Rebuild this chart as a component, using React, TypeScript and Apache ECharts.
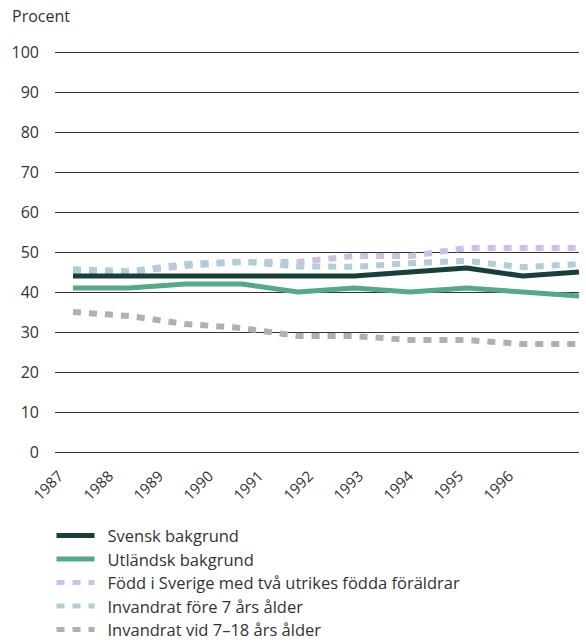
import React, { useEffect, useRef } from "react";
import * as echarts from "echarts";

const years = ["1987", "1988", "1989", "1990", "1991", "1992", "1993", "1994", "1995", "1996"];
const svensk = [44, 44, 44, 44, 44, 44, 45, 46, 44, 45];
const utlandsk = [41, 41, 42, 42, 40, 41, 40, 41, 40, 39];
const foddISverige = [45, 45, 46.5, 47.5, 47.5, 49, 49, 51, 51, 51];
const fore7 = [45.7, 45.2, 47, 47.6, 46.4, 46.3, 47.2, 47.8, 46.2, 47];
const vid7till18 = [35, 34, 32, 31, 29, 29, 28, 28, 27, 27];
const yTicks = [0, 100, 10];

const seriesNames = [
  "Svensk bakgrund",
  "Utländsk bakgrund",
  "Född i Sverige med två utrikes födda föräldrar",
  "Invandrat före 7 års ålder",
  "Invandrat vid 7–18 års ålder",
];

const FONT = "'Open Sans', sans-serif";

export default function App() {
  const ref = useRef<HTMLDivElement>(null);
  useEffect(() => {
    if (!ref.current) return;
    const chart = echarts.init(ref.current, null, { renderer: "svg" });
    const pairs = (arr: number[]) => arr.map((v, i) => [Number(years[i]), v]);
    const dashed = (name: string, data: number[], color: string, z: number) => ({
      name,
      type: "line",
      xAxisIndex: 0,
      yAxisIndex: 0,
      data: pairs(data),
      symbol: "none",
      z,
      lineStyle: { color, width: 6, type: [8, 8] },
      itemStyle: { color },
    });
    const solid = (name: string, data: number[], color: string, z: number) => ({
      name,
      type: "line",
      xAxisIndex: 0,
      yAxisIndex: 0,
      data: pairs(data),
      symbol: "none",
      z,
      lineStyle: { color, width: 5 },
      itemStyle: { color },
    });
    chart.setOption({
      animation: false,
      textStyle: { fontFamily: FONT },
      graphic: [
        {
          type: "text",
          left: 12,
          top: 8,
          style: { text: "Procent", fontSize: 16, fill: "#333", fontFamily: FONT },
        },
      ],
      grid: [
        { left: 55, right: 7, top: 52, bottom: 190 },
        { left: 60, right: 76, top: 52, bottom: 190 },
      ],
      xAxis: [
        {
          type: "value",
          gridIndex: 0,
          min: 1986.68,
          max: 1996,
          axisLine: { show: false },
          axisTick: { show: false },
          axisLabel: { show: false },
          splitLine: { show: false },
        },
        {
          type: "category",
          gridIndex: 1,
          data: years,
          boundaryGap: false,
          axisLine: { show: false },
          axisTick: { show: false },
          axisLabel: { rotate: 45, margin: 21, fontSize: 15, color: "#333", fontFamily: FONT },
          splitLine: { show: false },
        },
      ],
      yAxis: [
        {
          type: "value",
          gridIndex: 0,
          min: yTicks[0],
          max: yTicks[1],
          interval: yTicks[2],
          axisLine: { show: false },
          axisTick: { show: false },
          axisLabel: { margin: 16, fontSize: 16, color: "#333", fontFamily: FONT },
          splitLine: { lineStyle: { color: "#333", width: 1 } },
        },
        {
          type: "value",
          gridIndex: 1,
          show: false,
          min: 0,
          max: 100,
        },
      ],
      legend: {
        orient: "vertical",
        left: 54,
        top: 527,
        height: 200,
        padding: 0,
        itemWidth: 38,
        itemHeight: 10,
        itemGap: 6.5,
        itemStyle: { opacity: 0 },
        lineStyle: { width: 5 },
        textStyle: {
          fontSize: 16.5,
          color: "#333",
          fontFamily: FONT,
          padding: [0, 0, 0, 8],
        },
        data: seriesNames,
      },
      series: [
        dashed(seriesNames[4], vid7till18, "#b3afac", 1),
        dashed(seriesNames[2], foddISverige, "#cfbfe3", 2),
        dashed(seriesNames[3], fore7, "#b3cdd7", 3),
        solid(seriesNames[1], utlandsk, "#55a98a", 4),
        solid(seriesNames[0], svensk, "#183f3b", 5),
      ],
    });
    return () => chart.dispose();
  }, []);
  return (
    <div
      ref={ref}
      style={{ position: "fixed", left: 0, top: 0, width: 586, height: 642, background: "#fff" }}
    />
  );
}
